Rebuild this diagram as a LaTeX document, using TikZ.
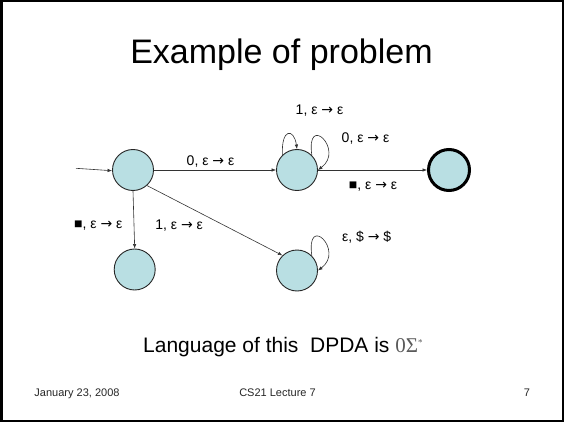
\documentclass[tikz,border=0pt]{standalone}
\usepackage{fontspec}
\setmainfont{Liberation Sans}
\newfontfamily\serifgreek{Liberation Serif}
\newfontfamily\arrowfont{DejaVu Sans}
\newcommand{\goesto}{{\arrowfont →}}
\usetikzlibrary{arrows.meta}
\definecolor{statefill}{HTML}{B9DFE3}
\definecolor{sigmagray}{HTML}{5A5A5A}
\begin{document}
\begin{tikzpicture}[x=1pt,y=1pt,
  state/.style={circle,draw=black!85,line width=0.9pt,fill=statefill,minimum size=41pt,inner sep=0pt},
  accept/.style={state,draw=black,line width=3pt},
  edge/.style={draw=black!80,line width=0.6pt,-{Latex[length=4.5pt,width=3.5pt]}},
  lbl/.style={font=\fontsize{14}{16}\selectfont,inner sep=0pt},
  foot/.style={font=\fontsize{11}{13}\selectfont,text=black!85,anchor=base,inner sep=0pt}]
\useasboundingbox (0,0) rectangle (564,-422);
% slide frame
\draw[line width=2.5pt] (1.25,-1.25) rectangle (562.75,-420.75);

% title
\node[font=\fontsize{34}{38}\selectfont,anchor=base,inner sep=0pt] (title) at (281.5,-63.3) {Example of problem};

% states
\node[state]  (A) at (133,-170) {};
\node[state]  (B) at (297,-170) {};
\node[accept] (F) at (449,-170) {};
\node[state]  (C) at (134.7,-269.5) {};
\node[state]  (D) at (297,-270.5) {};

% start arrow
\coordinate (start) at (76,-168.3);
\draw[edge] (start) -- (A.182);

% transitions
\draw[edge] (A) -- (B);
\draw[edge] (A.-90) -- (C.90);
\draw[edge] (A.-48) -- (D.134);
\draw[edge] (B) -- (F);
\draw[edge] (B.134) .. controls +(-1.4,27) and +(-3,21) .. (B.90);
\draw[edge] (B.45) .. controls +(-6,43) and +(27,20) .. (B.0);
\draw[edge] (D.45) .. controls +(-6,43) and +(27,20) .. (D.0);

% transition labels
\node[lbl] (l1) at (210.5,-161.5) {0, ε \goesto{} ε};
\node[lbl] (l2) at (98.3,-226) {■, ε \goesto{} ε};
\node[lbl] (l3) at (179.2,-226) {1, ε \goesto{} ε};
\node[lbl] (l4) at (319.5,-111) {1, ε \goesto{} ε};
\node[lbl] (l5) at (365.5,-139) {0, ε \goesto{} ε};
\node[lbl] (l6) at (373,-186.7) {■, ε \goesto{} ε};
\node[lbl] (l7) at (366.7,-237.7) {ε, \$ \goesto{} \$};

% language statement
\node[anchor=base west,inner sep=0pt,font=\fontsize{21}{24}\selectfont] (lang) at (143,-352.7)
  {Language of this\ \ DPDA is {\serifgreek\color{sigmagray}0Σ\textsuperscript{\fontsize{9}{9}\selectfont*}}};

% footer
\node[foot] (date)  at (77,-396.7) {January 23, 2008};
\node[foot] (lect)  at (277.5,-396.7) {CS21 Lecture 7};
\node[foot] (page)  at (527,-396.7) {7};
\end{tikzpicture}
\end{document}
